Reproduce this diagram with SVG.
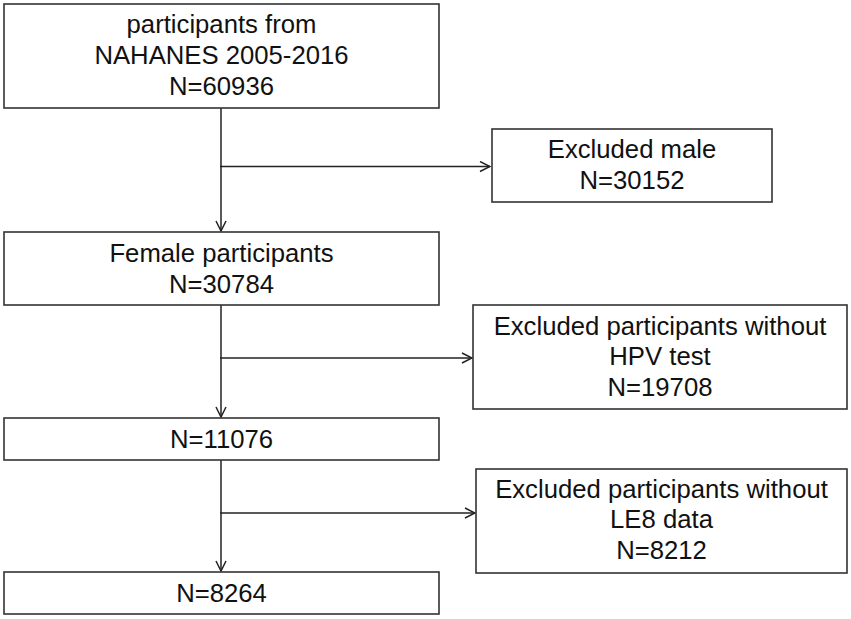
<svg xmlns="http://www.w3.org/2000/svg" width="851" height="619" viewBox="0 0 851 619">
<style>
.box{fill:#fff;stroke:#333;stroke-width:1.6}
.t{font-family:"Liberation Sans",Arial,sans-serif;font-size:25.7px;fill:#111;text-anchor:middle}
.c{fill:none;stroke:#222;stroke-width:1.5}
</style>
<defs>
<marker id="arr" viewBox="0 0 12 12" refX="11" refY="6" markerWidth="12" markerHeight="12" markerUnits="userSpaceOnUse" orient="auto">
<path d="M1,1 L11,6 L1,11" fill="none" stroke="#222" stroke-width="1.5"/>
</marker>
</defs>
<rect width="851" height="619" fill="#fff"/>
<g id="connectors">
<line class="c" x1="221" y1="108" x2="221" y2="231" marker-end="url(#arr)"/>
<line class="c" x1="220" y1="166.5" x2="490" y2="166.5" marker-end="url(#arr)"/>
<line class="c" x1="221" y1="305" x2="221" y2="417" marker-end="url(#arr)"/>
<line class="c" x1="220" y1="358" x2="472" y2="358" marker-end="url(#arr)"/>
<line class="c" x1="221" y1="460" x2="221" y2="571" marker-end="url(#arr)"/>
<line class="c" x1="220" y1="513" x2="475" y2="513" marker-end="url(#arr)"/>
</g>
<g id="n1">
<rect class="box" x="4" y="4" width="435" height="104"/>
<text class="t" x="221.5" y="33">participants from</text>
<text class="t" x="221.5" y="64">NAHANES 2005-2016</text>
<text class="t" x="221.5" y="95">N=60936</text>
</g>
<g id="n2">
<rect class="box" x="492" y="129" width="280" height="73"/>
<text class="t" x="632" y="158">Excluded male</text>
<text class="t" x="632" y="189">N=30152</text>
</g>
<g id="n3">
<rect class="box" x="4" y="232" width="435" height="73"/>
<text class="t" x="221.5" y="262">Female participants</text>
<text class="t" x="221.5" y="293">N=30784</text>
</g>
<g id="n4">
<rect class="box" x="473" y="305" width="374" height="104"/>
<text class="t" x="660" y="335">Excluded participants without</text>
<text class="t" x="660" y="365">HPV test</text>
<text class="t" x="660" y="396">N=19708</text>
</g>
<g id="n5">
<rect class="box" x="4" y="418" width="435" height="42"/>
<text class="t" x="221.5" y="448">N=11076</text>
</g>
<g id="n6">
<rect class="box" x="476" y="469" width="371" height="104"/>
<text class="t" x="661.5" y="498">Excluded participants without</text>
<text class="t" x="661.5" y="528">LE8 data</text>
<text class="t" x="661.5" y="559">N=8212</text>
</g>
<g id="n7">
<rect class="box" x="4" y="572" width="435" height="42"/>
<text class="t" x="221.5" y="602">N=8264</text>
</g>
</svg>
